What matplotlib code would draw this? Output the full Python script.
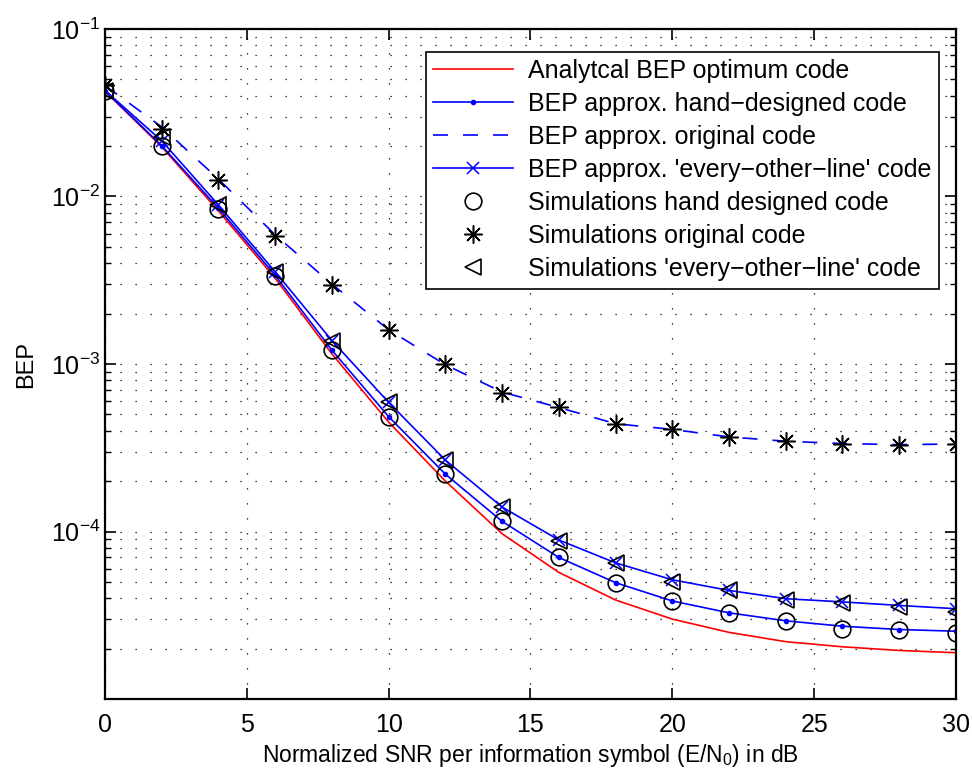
import matplotlib
matplotlib.use('Agg')
import matplotlib.pyplot as plt
from matplotlib.ticker import LogLocator, NullFormatter, FixedLocator

plt.rcParams['font.family'] = ['Liberation Sans', 'DejaVu Sans']
plt.rcParams['mathtext.default'] = 'regular'

snr = [0, 2, 4, 6, 8, 10, 12, 14, 16, 18, 20, 22, 24, 26, 28, 30]

analytical_opt = [0.0425, 0.0198, 0.0082, 0.00325, 1.15e-3, 4.5e-4, 2.0e-4, 9.7e-5,
                  5.7e-5, 3.9e-5, 3.0e-5, 2.5e-5, 2.2e-5, 2.05e-5, 1.95e-5, 1.89e-5]
approx_hand = [0.0428, 0.0201, 0.0085, 0.00338, 1.21e-3, 4.85e-4, 2.2e-4, 1.15e-4,
               7.0e-5, 4.95e-5, 3.85e-5, 3.27e-5, 2.93e-5, 2.72e-5, 2.6e-5, 2.54e-5]
approx_orig = [0.046, 0.026, 0.0127, 0.0059, 0.0030, 1.6e-3, 9.9e-4, 6.8e-4,
               5.5e-4, 4.4e-4, 4.07e-4, 3.67e-4, 3.46e-4, 3.35e-4, 3.3e-4, 3.33e-4]
approx_eol = [0.043, 0.0215, 0.0089, 0.00355, 1.38e-3, 5.9e-4, 2.67e-4, 1.4e-4,
              8.9e-5, 6.5e-5, 5.15e-5, 4.45e-5, 3.97e-5, 3.8e-5, 3.62e-5, 3.46e-5]
sim_hand = [0.0428, 0.0201, 0.0084, 0.00335, 1.21e-3, 4.8e-4, 2.19e-4, 1.15e-4,
            7.04e-5, 4.92e-5, 3.83e-5, 3.26e-5, 2.92e-5, 2.63e-5, 2.59e-5, 2.49e-5]
sim_orig = [0.0465, 0.0253, 0.0126, 0.00582, 0.00296, 1.6e-3, 1.0e-3, 6.73e-4,
            5.5e-4, 4.41e-4, 4.07e-4, 3.67e-4, 3.46e-4, 3.35e-4, 3.27e-4, 3.35e-4]
sim_eol = [0.0428, 0.0228, 0.0089, 0.00356, 1.38e-3, 5.94e-4, 2.67e-4, 1.4e-4,
           8.77e-5, 6.49e-5, 4.99e-5, 4.45e-5, 3.88e-5, 3.73e-5, 3.52e-5, 3.3e-5]

fig = plt.figure(figsize=(9.72, 7.73), dpi=100)
ax = fig.add_axes([0.108, 0.0957, 0.8755, 0.8668])

ax.semilogy(snr, analytical_opt, color='red', lw=1.2, label='Analytcal BEP optimum code')
ax.semilogy(snr, approx_hand, color='blue', lw=1.2, marker='.', ms=6,
            label='BEP approx. hand\u2212designed code')
ax.semilogy(snr, approx_orig, color='blue', lw=1.2, linestyle=(0, (9, 9)),
            label='BEP approx. original code')
ax.semilogy(snr, approx_eol, color='blue', lw=1.2, marker='x', ms=9, mew=1.1,
            label="BEP approx. 'every\u2212other\u2212line' code")
ax.semilogy(snr, sim_hand, linestyle='none', marker='o', ms=12, mfc='none',
            mec='black', mew=1.2, label='Simulations hand designed code')
ax.semilogy(snr, sim_orig, linestyle='none', marker=(8, 2, 0), ms=13,
            mec='black', mew=1.1, label='Simulations original code')
ax.semilogy(snr, sim_eol, linestyle='none', marker='<', ms=12, mfc='none',
            mec='black', mew=1.2, label="Simulations 'every\u2212other\u2212line' code")

ax.set_xlim(0, 30)
ax.set_ylim(1e-5, 1e-1)
ax.set_xticks([0, 5, 10, 15, 20, 25, 30])
ax.yaxis.set_major_locator(FixedLocator([1e-5, 1e-4, 1e-3, 1e-2, 1e-1]))
ax.set_yticklabels(['', '$10^{-4}$', '$10^{-3}$', '$10^{-2}$', '$10^{-1}$'])
ax.yaxis.set_minor_locator(LogLocator(base=10, subs=range(2, 10), numticks=20))
ax.yaxis.set_minor_formatter(NullFormatter())

ax.tick_params(which='both', direction='in', top=True, right=True, labelsize=18)
ax.tick_params(which='major', length=8, width=1.2)
ax.tick_params(which='minor', length=4, width=1.0)
ax.tick_params(axis='x', pad=10)
for s in ax.spines.values():
    s.set_linewidth(1.6)

grid_style = dict(color='black', linestyle=(0, (1, 11)), linewidth=0.9)
ax.grid(True, which='major', axis='both', **grid_style)
ax.grid(True, which='minor', axis='y', **grid_style)

ax.set_xlabel('Normalized SNR per information symbol (E/N$_0$) in dB', fontsize=16.5, labelpad=4)
ax.set_ylabel('BEP', fontsize=17, labelpad=10)

leg = ax.legend(loc='upper right', fontsize=18, frameon=True, fancybox=False,
                edgecolor='black', framealpha=1, handlelength=3.2, handletextpad=0.6,
                borderpad=0.3, labelspacing=0.36, borderaxespad=0.5,
                bbox_to_anchor=(0.995, 0.985))
leg.get_frame().set_linewidth(1.2)

fig.savefig('out.png', dpi=100)
